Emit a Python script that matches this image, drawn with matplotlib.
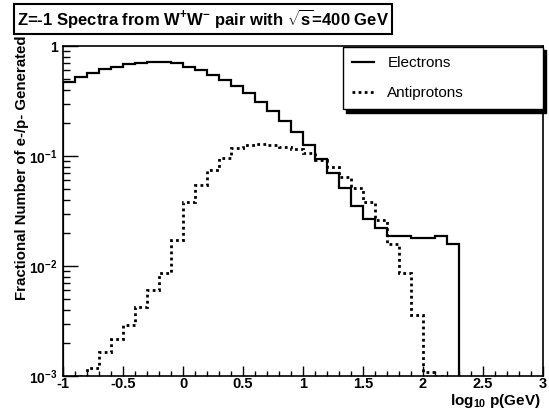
import numpy as np
import matplotlib
matplotlib.use("Agg")
import matplotlib.pyplot as plt
from matplotlib.ticker import FixedLocator, FixedFormatter, MultipleLocator, LogLocator

plt.rcParams['font.family'] = ['Liberation Sans', 'DejaVu Sans']
plt.rcParams['mathtext.fontset'] = 'custom'
plt.rcParams['mathtext.rm'] = 'Liberation Sans:bold'
plt.rcParams['mathtext.it'] = 'Liberation Sans:bold'
plt.rcParams['mathtext.bf'] = 'Liberation Sans:bold'

# bin edges (log10 p) of width 0.1
bin_width = 0.1
electron_start = -1.0
antiproton_start = -1.0

electrons = [0.47, 0.52, 0.57, 0.62, 0.65, 0.68, 0.705, 0.715, 0.715, 0.70,
             0.65, 0.60, 0.545, 0.49, 0.43, 0.37, 0.31, 0.258, 0.21, 0.164,
             0.126, 0.093, 0.070, 0.051, 0.035, 0.027, 0.022, 0.0187, 0.0187,
             0.0178, 0.0178, 0.0188, 0.016]

antiprotons = [0.00095, 0.0010, 0.00117, 0.00164, 0.00217, 0.0029, 0.0042,
               0.0060, 0.0087, 0.0172, 0.038, 0.054, 0.0746, 0.0966, 0.117,
               0.126, 0.129, 0.126, 0.121, 0.115, 0.106, 0.092, 0.080, 0.065,
               0.051, 0.038, 0.026, 0.016, 0.0086, 0.0036, 0.00108, 0.0010]

x_ticks = [-1, -0.5, 0, 0.5, 1, 1.5, 2, 2.5, 3]
x_tick_labels = ['-1', '-0.5', '0', '0.5', '1', '1.5', '2', '2.5', '3']
y_ticks = [1e-3, 1e-2, 1e-1, 1]
y_tick_labels = [r'10$^{-3}$', r'10$^{-2}$', r'10$^{-1}$', '1']

title = r"Z=-1 Spectra from W$^{+}$W$^{-}$ pair with $\sqrt{\mathrm{s}}$=400 GeV"
ylabel = "Fractional Number of e-/p- Generated"
xlabel = r"log$_{10}$ p(GeV)"

e_edges = electron_start + bin_width * np.arange(len(electrons) + 1)
p_edges = antiproton_start + bin_width * np.arange(len(antiprotons) + 1)

fig = plt.figure(figsize=(5.49, 4.11), dpi=100)
ax = fig.add_axes([63 / 549, 1 - 376 / 411, 480 / 549, 330 / 411])

ax.stairs(electrons, e_edges, baseline=1e-5, color='black', lw=1.6, label='Electrons')
ax.stairs(antiprotons, p_edges, baseline=None, color='black', lw=2.0,
          linestyle=(0, (1, 1.2)), label='Antiprotons')

ax.set_yscale('log')
ax.set_xlim(-1, 3)
ax.set_ylim(1e-3, 1)

ax.xaxis.set_major_locator(FixedLocator(x_ticks))
ax.xaxis.set_major_formatter(FixedFormatter(x_tick_labels))
ax.xaxis.set_minor_locator(MultipleLocator(0.1))
ax.yaxis.set_major_locator(FixedLocator(y_ticks))
ax.yaxis.set_major_formatter(FixedFormatter(y_tick_labels))
ax.yaxis.set_minor_locator(LogLocator(base=10, subs=np.arange(2, 10)))
ax.yaxis.set_minor_formatter(FixedFormatter([]))

ax.tick_params(axis='x', which='major', direction='in', length=7.5, width=1,
               labelsize=10.5, pad=1)
ax.tick_params(axis='x', which='minor', direction='in', length=3.8, width=1)
ax.tick_params(axis='y', which='major', direction='in', length=11, width=1,
               labelsize=10, pad=4)
ax.tick_params(axis='y', which='minor', direction='in', length=5, width=1)
for lab in ax.get_xticklabels() + ax.get_yticklabels():
    lab.set_fontweight('bold')
for s in ax.spines.values():
    s.set_linewidth(1.2)

fig.text(22 / 549, 1 - 168 / 411, ylabel, fontsize=10.8, fontweight='bold',
         rotation=90, ha='center', va='center')
fig.text(541 / 549, 1 - 410 / 411, xlabel, fontsize=11, fontweight='bold',
         ha='right', va='bottom')

leg = ax.legend(loc='upper left', mode='expand',
                bbox_to_anchor=(343 / 549, 1 - 116 / 411, 200 / 549, 69 / 411),
                bbox_transform=fig.transFigure, fontsize=11, frameon=True,
                fancybox=False, edgecolor='black', handlelength=1.4,
                handletextpad=0.9, labelspacing=1.05, borderpad=0.6,
                borderaxespad=0,
                shadow={'color': 'black', 'alpha': 1, 'ox': 2.5, 'oy': -2.5},
                framealpha=1)
leg.get_frame().set_linewidth(1.0)

fig.text(17 / 549, 1 - 19 / 411, title, fontsize=12, fontweight='bold',
         va='center', ha='left',
         bbox=dict(boxstyle='square,pad=0.2', fc='white', ec='black', lw=1.5))

fig.savefig('out.png', dpi=100)
